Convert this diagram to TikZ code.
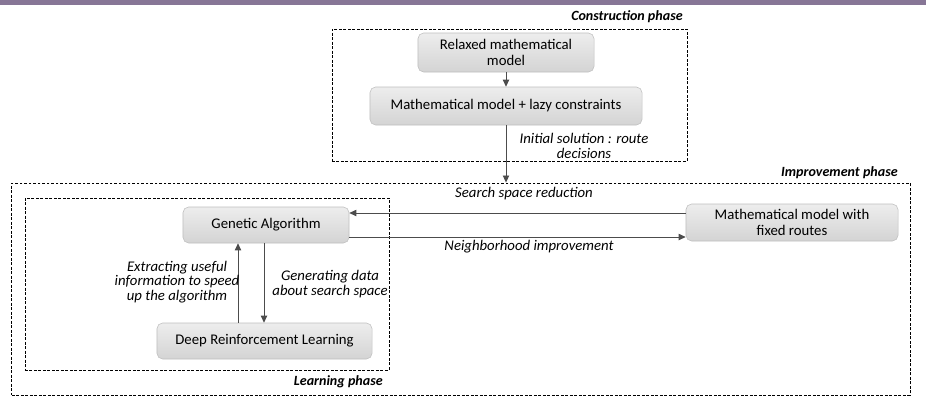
\documentclass[tikz,border=0pt]{standalone}
\usepackage{fontspec}
\setmainfont{Carlito}
\usetikzlibrary{positioning, calc, arrows.meta}
\definecolor{barpurple}{RGB}{135,118,150}

\tikzset{
    stepbox/.style={draw=gray!50, rounded corners=4pt, top color=gray!14, bottom color=gray!34,
        font=\fontsize{10.5}{11.2}\selectfont, align=center, inner sep=0pt},
    phasebox/.style={draw=black, dash pattern=on 2pt off 1.2pt, line width=0.6pt, inner sep=0pt},
    phase/.style={font=\fontsize{10}{12}\selectfont\bfseries\itshape, anchor=east, inner sep=0pt},
    lbl/.style={font=\fontsize{10.5}{10.5}\selectfont\itshape, align=center, inner sep=0pt},
    arr/.style={-{Triangle[length=5pt,width=4.5pt]}, draw=black!70, line width=0.6pt}
}

\begin{document}
\begin{tikzpicture}[x=0.025cm, y=-0.025cm]
        \useasboundingbox (0,0) rectangle (926,397);

        % the bar on top
        \fill[barpurple] (0,0) rectangle (926,5);

        % the phases
        \node[phasebox, minimum width=8.875cm, minimum height=3.3cm] (construct) at (509.5,95) {};
        \node[phasebox, minimum width=22.45cm, minimum height=5.3cm] (improve) at (461,289) {};
        \node[phasebox, minimum width=9.1cm, minimum height=4.3cm] (learn) at (207,284) {};

        \node[phase] (conlbl) at (683,17) {Construction phase};
        \node[phase] (implbl) at (898,173) {Improvement phase};
        \node[phase] (learnlbl) at (383,382) {Learning phase};

        % the steps
        \node[stepbox, minimum width=4.4cm, minimum height=0.975cm] (relaxed) at (506,52.5) {Relaxed mathematical\\model};
        \node[stepbox, minimum width=6.8cm, minimum height=0.95cm] (lazy) at (506,106) {Mathematical model + lazy constraints};
        \node[stepbox, minimum width=4.15cm, minimum height=0.9cm] (genetic) at (266,225) {Genetic Algorithm};
        \node[stepbox, minimum width=5.375cm, minimum height=0.9cm] (drl) at (264.5,341) {Deep Reinforcement Learning};
        \node[stepbox, minimum width=5.3cm, minimum height=0.925cm] (fixed) at (792,222.5) {Mathematical model with\\fixed routes};

        % helper coordinates
        \coordinate (upx) at (238,0);
        \coordinate (dnx) at (264,0);
        \coordinate (sry) at (0,213);
        \coordinate (nby) at (0,237);

        % the arrows
        \draw[arr] (relaxed.south) -- (lazy.north);
        \draw[arr] (lazy.south) -- (lazy.south |- improve.north);
        \draw[arr] (fixed.west |- sry) -- (genetic.east |- sry);
        \draw[arr] (genetic.east |- nby) -- (fixed.west |- nby);
        \draw[arr] (drl.north -| upx) -- (genetic.south -| upx);
        \draw[arr] (genetic.south -| dnx) -- (drl.north -| dnx);

        % arrow labels
        \node[lbl] (initlbl) at (584,146) {Initial solution : route\\decisions};
        \node[lbl] (srlbl) at (524,194) {Search space reduction};
        \node[lbl] (nblbl) at (529,247) {Neighborhood improvement};
        \node[lbl] (extlbl) at (177,282) {Extracting useful\\information to speed\\up the algorithm};
        \node[lbl] (genlbl) at (330,284) {Generating data\\about search space};
    \end{tikzpicture}
\end{document}
